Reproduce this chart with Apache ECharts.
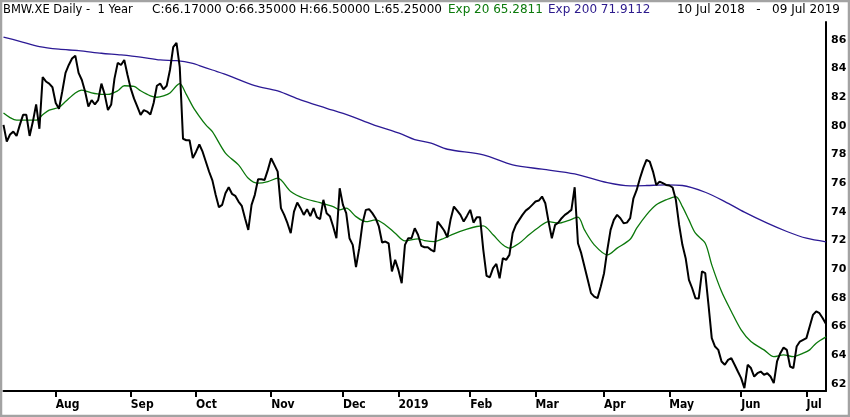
<!DOCTYPE html>
<html>
<head>
    <meta charset="utf-8"/>
    <title>BMW.XE Daily - 1 Year</title>
    <script src="https://cdn.jsdelivr.net/npm/echarts@6.0.0/dist/echarts.min.js"></script>
    <style>
        html, body { margin: 0; padding: 0; background: #fff; }
        #main { width: 850px; height: 417px; }
    </style>
</head>
<body>
<div id="main"></div>
<script>
    // trading calendar (Xetra), first and last day of the chart
    var firstDay = '2018-07-10';
    var lastDay = '2019-07-09';
    var holidays = ['2018-12-24', '2018-12-25', '2018-12-26', '2018-12-31', '2019-01-01',
        '2019-04-19', '2019-04-22', '2019-05-01'];
    var monthLabels = ['2019', 'Feb', 'Mar', 'Apr', 'May', 'Jun', 'Jul', 'Aug', 'Sep', 'Oct', 'Nov', 'Dec'];
    var priceTicks = [62, 64, 66, 68, 70, 72, 74, 76, 78, 80, 82, 84, 86];

    // closing prices, one per trading day
    var closes = [
        80.07, 78.9, 79.4, 79.6, 79.3, 80.07, 80.77, 80.77, 79.3, 80.3,
        81.5, 79.8, 83.4, 83.1, 82.95, 82.7, 81.6, 81.2, 82.4, 83.7,
        84.25, 84.7, 84.9, 83.7, 83.2, 82.4, 81.35, 81.8, 81.5, 81.8,
        82.95, 82.2, 81.1, 81.5, 83.3, 84.4, 84.25, 84.6, 83.55, 82.6,
        81.9, 81.35, 80.77, 81.1, 81.0, 80.8, 81.6, 82.8, 82.95, 82.55,
        82.8, 83.9, 85.5, 85.8, 84.1, 79.1, 79.0, 79.0, 77.75, 78.2,
        78.7, 78.2, 77.5, 76.8, 76.2,
        75.19, 74.33, 74.49, 75.3, 75.72, 75.26, 75.12, 74.72, 74.42, 73.56,
        72.74, 74.49, 75.19, 76.28, 76.28, 76.23, 76.93, 77.74, 77.28, 76.81,
        74.26, 73.79, 73.21, 72.51, 74.02, 74.65, 74.26, 73.79, 74.19, 73.7,
        74.26, 73.63, 73.49, 74.84, 73.91, 73.7, 72.98, 72.16, 75.65, 74.49,
        73.91, 72.16, 71.7, 70.14, 71.47, 73.21, 74.14, 74.19, 73.91, 73.56,
        72.98, 71.86, 71.93, 71.8, 69.84, 70.65, 69.95, 69.02, 71.7, 72.16,
        72.16, 72.86, 72.4,
        71.63, 71.53, 71.53, 71.35, 71.23, 73.32, 73.02, 72.7, 72.23, 73.49,
        74.37, 74.09, 73.79, 73.32, 73.72, 74.14, 73.25, 73.63, 73.63, 71.35,
        69.53, 69.44, 70.07, 70.37, 69.37, 70.77, 70.65, 71.0, 72.51, 73.09,
        73.44, 73.79, 74.09, 74.26, 74.49, 74.72, 74.79, 75.07, 74.6, 73.32,
        72.16, 73.09, 73.25, 73.56, 73.79, 73.95, 74.14, 75.72, 71.81, 71.12,
        70.19, 69.26, 68.33, 68.09, 67.98, 68.79, 69.72, 71.35, 72.74, 73.44,
        73.79, 73.56, 73.21, 73.25,
        73.56, 74.95, 75.53, 76.35, 77.05, 77.63, 77.51, 76.81, 75.88, 76.11,
        76.0, 75.88, 75.84, 75.7, 74.84, 73.09, 71.7, 70.77, 69.26, 68.67,
        67.98, 67.95, 69.84, 69.72, 67.51, 65.19, 64.6, 64.37, 63.56, 63.33,
        63.67, 63.79, 63.33, 62.86, 62.4, 61.7, 63.33, 63.1, 62.51, 62.74,
        62.86, 62.63, 62.74, 62.51, 62.05, 63.56, 64.14, 64.53, 64.37, 63.21,
        63.1, 64.6, 64.95, 65.07, 65.19, 66.0, 66.81, 67.05, 66.93, 66.58,
        66.17
    ];

    // exponential averages, [trading day index, value]
    var exp20 = [
        [0, 80.9], [2, 80.58], [4, 80.4], [7, 80.4], [10, 80.4], [12, 80.77], [14, 81.1], [17, 81.3],
        [19, 81.7], [22, 82.3], [24, 82.5], [27, 82.3], [30, 82.2], [32, 82.2], [35, 82.45], [37, 82.8],
        [40, 82.75], [42, 82.45], [45, 82.1], [47, 82.0], [49, 82.1], [51, 82.3], [53, 82.8], [54, 82.95],
        [56, 82.2], [58, 81.35], [60, 80.67], [62, 80.07], [64, 79.6], [68, 78.1], [72, 77.28], [75, 76.35],
        [78, 76.0], [81, 76.11], [84, 76.35], [88, 75.42], [92, 74.95], [97, 74.65], [101, 74.37], [103, 74.14],
        [105, 74.26], [108, 73.67], [111, 73.32], [114, 73.44], [117, 73.09], [120, 72.51], [123, 71.97], [127, 72.12],
        [129, 72.0], [132, 71.93], [135, 72.16], [138, 72.47], [142, 72.79], [145, 72.98], [147, 73.02], [150, 72.4],
        [153, 71.7], [155, 71.47], [158, 71.81], [161, 72.4], [164, 72.93], [167, 73.32], [170, 73.21], [173, 73.39],
        [176, 73.63], [178, 72.74], [181, 71.7], [185, 71.0], [188, 71.47], [192, 72.09], [194, 72.86], [197, 73.79],
        [200, 74.49], [203, 74.84], [206, 75.07], [208, 74.37], [210, 73.44], [212, 72.51], [215, 71.81], [217, 70.3],
        [220, 68.44], [223, 67.05], [226, 65.77], [229, 64.95], [233, 64.37], [236, 63.9], [239, 64.02], [242, 63.9],
        [245, 64.14], [247, 64.37], [249, 64.84], [252, 65.28]
    ];
    var exp200 = [
        [0, 86.2], [5, 85.9], [11, 85.53], [17, 85.35], [23, 85.25], [30, 85.07], [36, 84.95], [42, 84.8],
        [48, 84.6], [53, 84.55], [58, 84.37], [60, 84.21], [64, 83.9], [68, 83.6], [77, 82.81], [84, 82.44],
        [91, 81.81], [99, 81.23], [106, 80.72], [113, 80.11], [122, 79.42], [126, 79.05], [131, 78.79], [136, 78.37],
        [147, 77.98], [156, 77.28], [165, 76.98], [175, 76.65], [185, 76.04], [192, 75.82], [197, 75.84], [203, 75.88],
        [208, 75.84], [215, 75.37], [221, 74.72], [227, 73.98], [234, 73.21], [240, 72.63], [246, 72.16], [252, 71.91]
    ];

    // build the list of trading days
    var days = [];
    var d = new Date(firstDay + 'T00:00:00Z');
    var end = new Date(lastDay + 'T00:00:00Z');
    while (d <= end) {
        var s = d.toISOString().slice(0, 10);
        var wd = d.getUTCDay();
        if (wd !== 0 && wd !== 6 && holidays.indexOf(s) < 0) days.push(s);
        d.setUTCDate(d.getUTCDate() + 1);
    }

    function isMonthStart(i) {
        return i > 0 && days[i].slice(5, 7) !== days[i - 1].slice(5, 7);
    }

    var chart = echarts.init(document.getElementById('main'));
    var headFont = "'DejaVu Sans', sans-serif";

    var option = {
        animation: false,
        backgroundColor: '#fff',
        graphic: [
            {type: 'rect', shape: {x: 1, y: 1, width: 848, height: 415},
                style: {fill: 'none', stroke: '#a3a3a3', lineWidth: 2.5}, silent: true},
            {type: 'text', left: 3, top: 4, style: {text: 'BMW.XE Daily -  1 Year', fill: '#000', font: '11.5px ' + headFont}},
            {type: 'text', left: 152, top: 4, style: {text: 'C:66.17000 O:66.35000 H:66.50000 L:65.25000', fill: '#000', font: '12px ' + headFont}},
            {type: 'text', left: 448, top: 4, style: {text: 'Exp 20 65.2811', fill: '#0b7a0b', font: '12px ' + headFont}},
            {type: 'text', left: 548, top: 4, style: {text: 'Exp 200 71.9112', fill: '#2c1a8c', font: '12px ' + headFont}},
            {type: 'text', right: 10, top: 4, style: {text: '10 Jul 2018   -   09 Jul 2019', fill: '#000', font: '12px ' + headFont}}
        ],
        grid: {left: 3.5, right: 24, top: 22, bottom: 26},
        xAxis: {
            type: 'category',
            boundaryGap: false,
            data: days,
            axisLine: {show: true, lineStyle: {color: '#000', width: 2}},
            axisTick: {
                show: true, length: 6, inside: false,
                interval: function (i) { return isMonthStart(i); },
                lineStyle: {color: '#000', width: 2}
            },
            axisLabel: {
                interval: function (i) { return isMonthStart(i); },
                formatter: function (v) { return monthLabels[parseInt(v.slice(5, 7), 10) - 1]; },
                align: 'left',
                margin: 8,
                color: '#000',
                fontSize: 12,
                fontWeight: 'bold',
                fontFamily: "'DejaVu Sans Condensed', 'Liberation Sans Narrow', sans-serif"
            },
            splitLine: {show: false}
        },
        yAxis: {
            type: 'value',
            position: 'right',
            min: 61.5,
            max: 87.25,
            axisLine: {show: true, lineStyle: {color: '#000', width: 2}},
            axisTick: {show: false},
            splitLine: {show: false},
            axisLabel: {
                customValues: priceTicks,
                margin: 5,
                color: '#000',
                fontSize: 11,
                fontWeight: 'bold',
                fontFamily: "'DejaVu Sans', sans-serif"
            }
        },
        series: [
            {
                name: 'Exp 200', type: 'line', data: exp200, showSymbol: false, smooth: 0.3,
                lineStyle: {color: '#2c1a95', width: 1.3}, z: 2
            },
            {
                name: 'Exp 20', type: 'line', data: exp20, showSymbol: false, smooth: 0.3,
                lineStyle: {color: '#0b780b', width: 1.3}, z: 3
            },
            {
                name: 'BMW.XE', type: 'line', data: closes, showSymbol: false,
                lineStyle: {color: '#000', width: 2}, z: 4
            }
        ]
    };
    chart.setOption(option);
</script>
</body>
</html>
